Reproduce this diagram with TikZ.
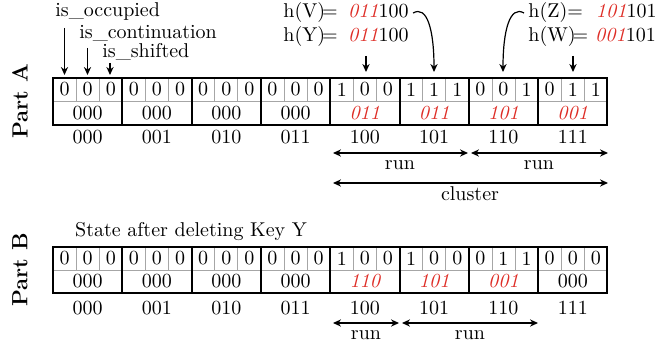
\documentclass[tikz,border=0pt]{standalone}
\usetikzlibrary{arrows.meta}
\definecolor{keyred}{RGB}{222,45,38}
\begin{document}
\begin{tikzpicture}[x=0.5pt,y=-0.5pt,
  txt/.style={inner sep=0pt,font=\fontsize{10}{12}\selectfont},
  rem/.style={txt,text=keyred,font=\fontsize{10}{12}\selectfont\itshape},
  outer/.style={line width=1pt,black},
  inner/.style={line width=0.4pt,gray!70},
  arr/.style={line width=0.6pt,-{Stealth[length=4pt,width=3.6pt]}},
  darr/.style={line width=0.6pt,{Stealth[length=4pt,width=3.6pt]}-{Stealth[length=4pt,width=3.6pt]}},
  part/.style={inner sep=0pt,rotate=90,font=\fontsize{11}{13}\selectfont\bfseries}]
\useasboundingbox (0,0) rectangle (668,347);
\def\xo{53}\def\w{69.3}
% ---------- Part A ----------
\node[part] (pa) at (20,101) {Part A};
\foreach \i in {0,...,7}{
  \draw[inner] ({\xo+\i*\w},101) -- ({\xo+(\i+1)*\w},101);
  \draw[inner] ({\xo+\i*\w+\w/3},78) -- ({\xo+\i*\w+\w/3},101);
  \draw[inner] ({\xo+\i*\w+2*\w/3},78) -- ({\xo+\i*\w+2*\w/3},101);
}
\foreach \i in {1,...,7}{\draw[outer] ({\xo+\i*\w},78) -- ({\xo+\i*\w},125);}
\draw[outer] (\xo,78) rectangle ({\xo+8*\w},125);
\foreach \b [count=\k from 0] in {0,0,0,0,0,0,0,0,0,0,0,0,1,0,0,1,1,1,0,0,1,0,1,1}{
  \node[txt] (a\k) at ({\xo+(\k+0.5)*\w/3},89.5) {\b};}
\foreach \r/\s [count=\k from 0] in {000/txt,000/txt,000/txt,000/txt,011/rem,011/rem,101/rem,001/rem}{
  \node[\s] (ar\k) at ({\xo+(\k+0.5)*\w},113) {\r};}
\foreach \l [count=\k from 0] in {000,001,010,011,100,101,110,111}{
  \node[txt] (al\k) at ({\xo+(\k+0.5)*\w},137) {\l};}
% flag labels
\node[txt,anchor=west] (occ) at (55,12) {is\_occupied};
\node[txt,anchor=west] (cont) at (79,33) {is\_continuation};
\node[txt,anchor=west] (shf) at (102,52) {is\_shifted};
\coordinate (o1) at (64.5,28); \coordinate (o2) at (87.5,48); \coordinate (o3) at (110,63);
\coordinate (t1) at (64.5,75); \coordinate (t2) at (87.5,75); \coordinate (t3) at (110,75);
\draw[arr] (o1) -- (t1);
\draw[arr] (o2) -- (t2);
\draw[arr] (o3) -- (t3);
% hashes
\node[txt,anchor=west] (hv) at (283,13) {h(V)\kern-1.5pt=\hspace{5.2pt}\textcolor{keyred}{\itshape 011}100};
\node[txt,anchor=west] (hy) at (283,37) {h(Y)\kern-1.5pt=\hspace{5.2pt}\textcolor{keyred}{\itshape 011}100};
\node[txt,anchor=west] (hz) at (528,13) {h(Z)=\hspace{6.5pt}\textcolor{keyred}{\itshape 101}101};
\node[txt,anchor=west] (hw) at (528,37) {h(W)\kern-1.5pt=\hspace{3.5pt}\textcolor{keyred}{\itshape 001}101};
\coordinate (s4) at (366,56); \coordinate (e4) at (366,72);
\coordinate (s7) at (573,56); \coordinate (e7) at (573,72);
\coordinate (e5) at (434,72); \coordinate (e6) at (503,72);
\draw[arr] ([xshift=2pt]hv.east) .. controls +(14,-8) and (434,30) .. (e5);
\draw[arr] ([xshift=-2pt]hz.west) .. controls +(-14,-8) and (503,30) .. (e6);
\draw[arr] (s4) -- (e4);
\draw[arr] (s7) -- (e7);
% runs
\coordinate (ra1) at (333,153); \coordinate (ra2) at (468,153);
\coordinate (ra3) at (471,153); \coordinate (ra4) at (608,153);
\coordinate (ca1) at (333,183); \coordinate (ca2) at (608,183);
\draw[darr] (ra1) -- (ra2);
\draw[darr] (ra3) -- (ra4);
\draw[darr] (ca1) -- (ca2);
\node[txt] (runa1) at (400,165) {run};
\node[txt] (runa2) at (539,165) {run};
\node[txt] (clu) at (470,194) {cluster};
% ---------- Part B ----------
\node[part] (pb) at (20,270) {Part B};
\node[txt] (state) at (191,232) {State after deleting Key Y};
\foreach \i in {0,...,7}{
  \draw[inner] ({\xo+\i*\w},270) -- ({\xo+(\i+1)*\w},270);
  \draw[inner] ({\xo+\i*\w+\w/3},247) -- ({\xo+\i*\w+\w/3},270);
  \draw[inner] ({\xo+\i*\w+2*\w/3},247) -- ({\xo+\i*\w+2*\w/3},270);
}
\foreach \i in {1,...,7}{\draw[outer] ({\xo+\i*\w},247) -- ({\xo+\i*\w},293);}
\draw[outer] (\xo,247) rectangle ({\xo+8*\w},293);
\foreach \b [count=\k from 0] in {0,0,0,0,0,0,0,0,0,0,0,0,1,0,0,1,0,0,0,1,1,0,0,0}{
  \node[txt] (b\k) at ({\xo+(\k+0.5)*\w/3},258.5) {\b};}
\foreach \r/\s [count=\k from 0] in {000/txt,000/txt,000/txt,000/txt,110/rem,101/rem,001/rem,000/txt}{
  \node[\s] (br\k) at ({\xo+(\k+0.5)*\w},281.5) {\r};}
\foreach \l [count=\k from 0] in {000,001,010,011,100,101,110,111}{
  \node[txt] (bl\k) at ({\xo+(\k+0.5)*\w},308) {\l};}
\coordinate (rb1) at (333,323); \coordinate (rb2) at (399,323);
\coordinate (rb3) at (402,323); \coordinate (rb4) at (538,323);
\draw[darr] (rb1) -- (rb2);
\draw[darr] (rb3) -- (rb4);
\node[txt] (runb1) at (366,335) {run};
\node[txt] (runb2) at (470,335) {run};
\end{tikzpicture}
\end{document}
